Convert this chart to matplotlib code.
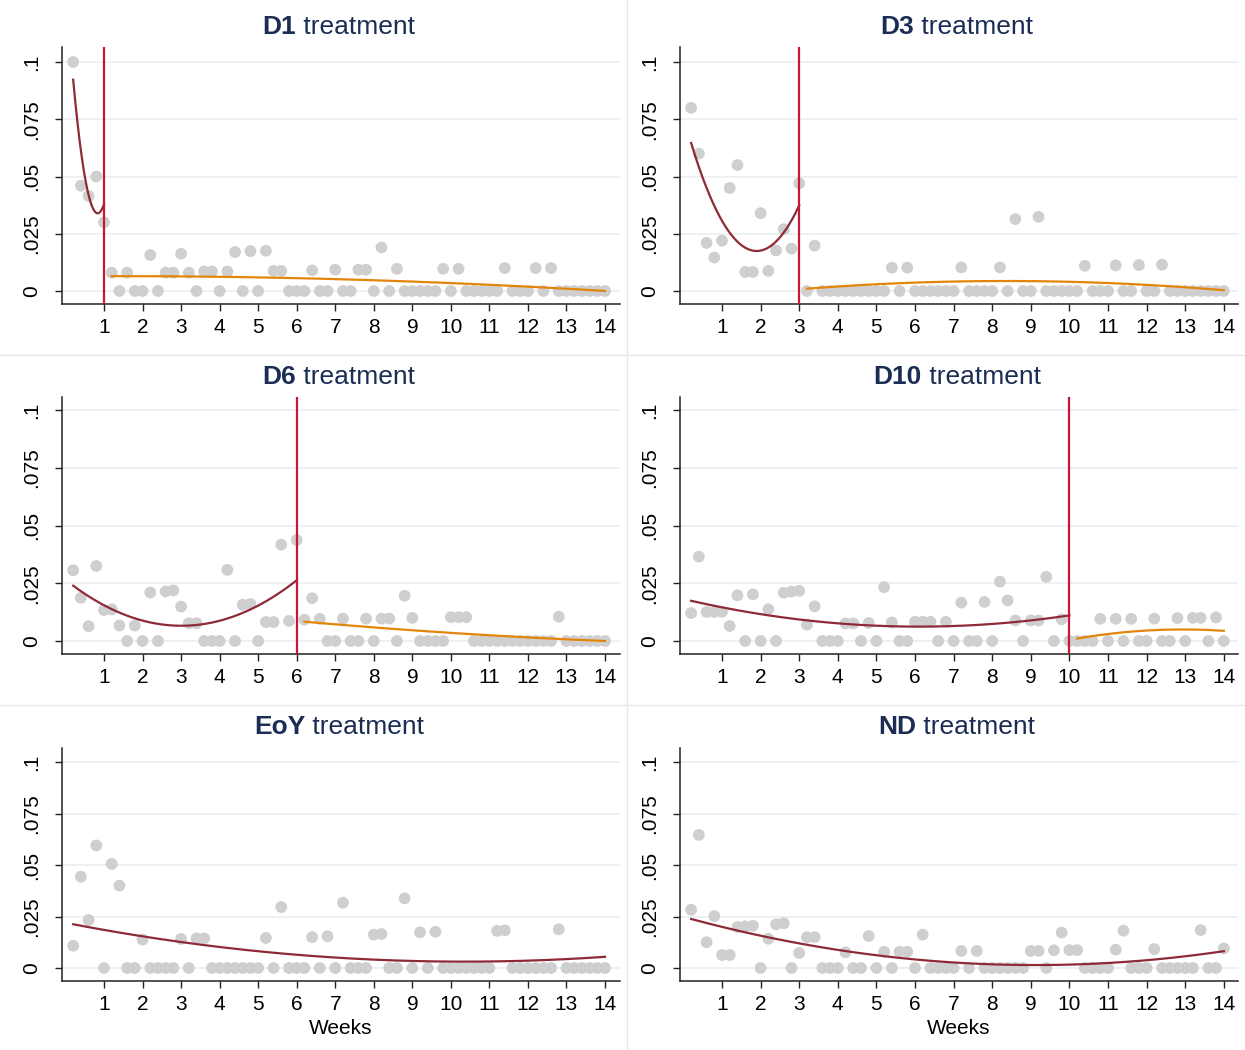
import numpy as np
import matplotlib
matplotlib.use("Agg")
import matplotlib.pyplot as plt

# ---------------- data ----------------
weeks = [round(0.2 * i, 1) for i in range(1, 71)]   # 0.2 ... 14.0

d1 = [0.100, 0.046, 0.0415, 0.050, 0.030,
      0.008, 0, 0.008, 0, 0, 0.0157, 0, 0.008, 0.008, 0.0163,
      0.008, 0, 0.0085, 0.0085, 0, 0.0085, 0.017, 0, 0.0174, 0,
      0.0176, 0.0088, 0.0088, 0, 0, 0, 0.009, 0, 0, 0.0093,
      0, 0, 0.0093, 0.0093, 0, 0.019, 0, 0.0097, 0, 0,
      0, 0, 0, 0.0097, 0, 0.0097, 0, 0, 0, 0,
      0, 0.010, 0, 0, 0, 0.010, 0, 0.010, 0, 0,
      0, 0, 0, 0, 0]

d3 = [0.080, 0.060, 0.021, 0.0146, 0.022, 0.045, 0.055, 0.0083, 0.0083, 0.034,
      0.0088, 0.0177, 0.027, 0.0185, 0.047,
      0, 0.0198, 0, 0, 0, 0, 0, 0, 0, 0,
      0, 0.0102, 0, 0.0102, 0, 0, 0, 0, 0, 0,
      0.0103, 0, 0, 0, 0, 0.0103, 0, 0.0314, 0, 0,
      0.0324, 0, 0, 0, 0, 0, 0.011, 0, 0, 0,
      0.0112, 0, 0, 0.0113, 0, 0, 0.0115, 0, 0, 0,
      0, 0, 0, 0, 0]

d6 = [0.0306, 0.0187, 0.0064, 0.0325, 0.0134, 0.0137, 0.0067, 0, 0.0067, 0,
      0.021, 0, 0.0214, 0.0219, 0.0149, 0.0077, 0.0077, 0, 0, 0,
      0.0308, 0, 0.0157, 0.016, 0, 0.0082, 0.0082, 0.0417, 0.0087, 0.0437,
      0.0092, 0.0185, 0.0096, 0, 0, 0.0097, 0, 0, 0.0097, 0,
      0.0097, 0.0097, 0, 0.0196, 0.010, 0, 0, 0, 0, 0.0103,
      0.0103, 0.0103, 0, 0, 0, 0, 0, 0, 0, 0,
      0, 0, 0, 0.0105, 0, 0, 0, 0, 0, 0]

d10 = [0.0121, 0.0365, 0.0126, 0.0126, 0.0126, 0.0065, 0.0198, 0, 0.0202, 0,
       0.0137, 0, 0.0209, 0.0214, 0.0217, 0.0071, 0.015, 0, 0, 0,
       0.0076, 0.0076, 0, 0.0078, 0, 0.0233, 0.008, 0, 0, 0.0083,
       0.0083, 0.0083, 0, 0.0083, 0, 0.0166,
       0, 0, 0.0169, 0, 0.0257, 0.0176, 0.0089, 0, 0.0089, 0.0089,
       0.0278, 0, 0.0094, 0,
       0, 0, 0, 0.0096, 0, 0.0096, 0, 0.0096, 0, 0,
       0.0097, 0, 0, 0.0099, 0, 0.010, 0.010, 0, 0.0102, 0]

eoy = [0.0108, 0.0443, 0.0233, 0.0595, 0, 0.0505, 0.040, 0, 0, 0.0138,
       0, 0, 0, 0, 0.0141, 0, 0.0144, 0.0144, 0, 0,
       0, 0, 0, 0, 0, 0.0146, 0, 0.0296, 0, 0,
       0, 0.015, 0, 0.0154, 0,
       0.0317, 0, 0, 0, 0.0162, 0.0165, 0, 0, 0.0338, 0,
       0.0173, 0, 0.0176, 0, 0, 0, 0, 0, 0, 0,
       0.018, 0.0183, 0, 0, 0, 0, 0, 0, 0.0188, 0,
       0, 0, 0, 0, 0]

nd = [0.0283, 0.0646, 0.0125, 0.0252, 0.0063, 0.0063, 0.0199, 0.0202, 0.0205, 0,
      0.0142, 0.0212, 0.0217, 0, 0.0073, 0.0149, 0.015, 0, 0, 0,
      0.0076, 0, 0, 0.0155, 0, 0.0079, 0, 0.0079, 0.0079, 0,
      0.0162, 0, 0, 0, 0,
      0.0083, 0, 0.0083, 0, 0, 0, 0, 0, 0, 0.0083,
      0.0083, 0, 0.0086, 0.0172, 0.0087, 0.0087, 0, 0, 0, 0,
      0.0089, 0.0181, 0, 0, 0, 0.0092, 0, 0, 0, 0,
      0, 0.0184, 0, 0, 0.0095]

panel_names = ["D1", "D3", "D6", "D10", "EoY", "ND"]
panel_values = [d1, d3, d6, d10, eoy, nd]
panel_cuts = [1, 3, 6, 10, None, None]

yticks = [0, 0.025, 0.05, 0.075, 0.1]
ytick_labels = ["0", ".025", ".05", ".075", ".1"]
xticks = list(range(1, 15))

# ---------------- style ----------------
W, H = 1245, 1050
plt.rcParams['font.family'] = ['Liberation Sans', 'DejaVu Sans']
fig = plt.figure(figsize=(W / 100, H / 100), dpi=100)

C_DOT = "#cfcfcf"
C_PRE = "#8e2a36"
C_POST = "#e3850b"
C_VLINE = "#c8163b"
C_TITLE = "#1b2d55"
C_GRID = "#eaf0f3"

def px_rect(l, t, r, b):
    return [l / W, 1 - b / H, (r - l) / W, (b - t) / H]

col_lr = [(62, 620), (680, 1238)]
col_x1 = [(104, 38.54), (722, 38.6)]
row_tb = [(47, 304), (397, 654), (748, 981)]
ylims = [(-13 / 2290, 0.1 + 15 / 2290),
         (-13 / 2310, 0.1 + 13 / 2310),
         (-13 / 2060, 0.1 + 14 / 2060)]
title_y = [27, 377, 727]

renderer = fig.canvas.get_renderer()
x = np.array(weeks)
for i, (name, vals, cut) in enumerate(zip(panel_names, panel_values, panel_cuts)):
    r, c = divmod(i, 2)
    l, rr = col_lr[c]
    t, b = row_tb[r]
    p1, pw = col_x1[c]
    ax = fig.add_axes(px_rect(l, t, rr, b))
    y = np.array(vals)
    ax.set_xlim(1 + (l - p1) / pw, 1 + (rr - p1) / pw)
    ax.set_ylim(*ylims[r])
    for yt in yticks:
        ax.axhline(yt, color=C_GRID, lw=1.3, zorder=0)
    ax.scatter(x, y, s=72, color=C_DOT, edgecolors='none', zorder=2)
    if cut is None:
        segs = [(x, y, C_PRE)]
    else:
        m = x <= cut + 1e-9
        segs = [(x[m], y[m], C_PRE), (x[~m], y[~m], C_POST)]
    for xs, ys, col in segs:
        coef = np.polyfit(xs, ys, 2)
        xx = np.linspace(xs.min(), xs.max(), 200)
        ax.plot(xx, np.polyval(coef, xx), color=col, lw=1.6, zorder=3)
    if cut is not None:
        ax.axvline(cut, color=C_VLINE, lw=1.6, zorder=4)
    ax.set_xticks(xticks)
    ax.set_xticklabels([str(v) for v in xticks], fontsize=15)
    ax.set_yticks(yticks)
    ax.set_yticklabels(ytick_labels, fontsize=15, rotation=90, va='center')
    ax.tick_params(axis='x', direction='out', length=5, width=1, color='#222222', pad=5)
    ax.tick_params(axis='y', direction='out', length=5, width=1, color='#222222', pad=10)
    for s in ['top', 'right']:
        ax.spines[s].set_visible(False)
    for s in ['left', 'bottom']:
        ax.spines[s].set_color('#222222')
        ax.spines[s].set_linewidth(1.1)

    # title: bold name + regular " treatment", centred over the plot
    cx = (l + rr) / 2 - 2
    ty = 1 - title_y[r] / H
    tb_ = fig.text(0, ty, name, fontsize=19, fontweight='bold', color=C_TITLE, va='center')
    tn_ = fig.text(0, ty, " treatment", fontsize=19, color=C_TITLE, va='center')
    wb = tb_.get_window_extent(renderer).width
    wn = tn_.get_window_extent(renderer).width
    x0 = cx - (wb + wn) / 2
    tb_.set_x(x0 / W)
    tn_.set_x((x0 + wb) / W)

    if r == 2:
        ax.set_xlabel("Weeks", fontsize=15, labelpad=4)

# separators between panels
for yy in [355, 705]:
    fig.add_artist(plt.Line2D([0, 1], [1 - yy / H] * 2, color="#e6e6e6", lw=1))
fig.add_artist(plt.Line2D([627 / W] * 2, [0, 1], color="#e6e6e6", lw=1))

fig.savefig("out.png", dpi=100)
